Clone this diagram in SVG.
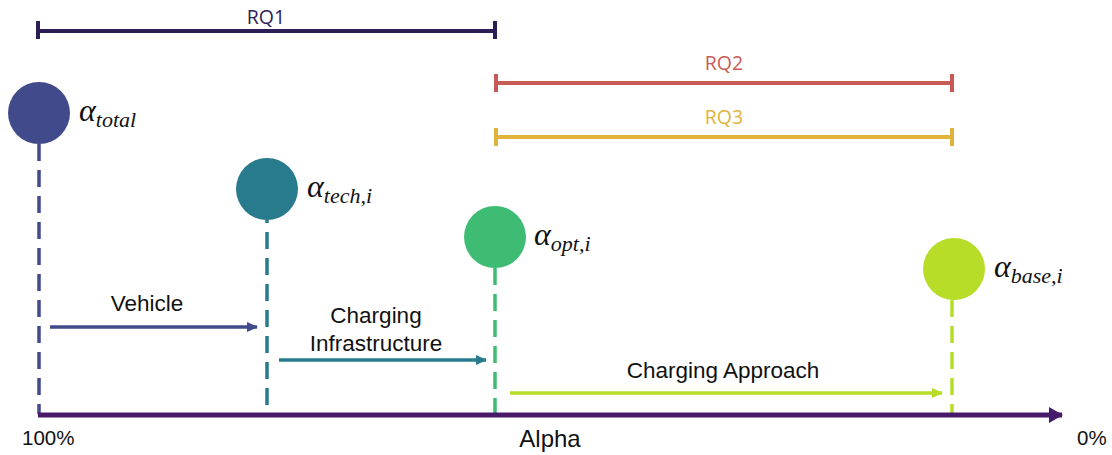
<svg xmlns="http://www.w3.org/2000/svg" width="1112" height="455" viewBox="0 0 1112 455">
  <style>
    .lbl { font-family: "Liberation Sans", Arial, sans-serif; font-size: 22.5px; fill: #111; }
    .tick { font-family: "Liberation Sans", Arial, sans-serif; font-size: 20.5px; fill: #111; }
    .axis-name { font-family: "Liberation Sans", Arial, sans-serif; font-size: 24px; fill: #111; }
    .rq { font-family: "Open Sans", "Liberation Sans", sans-serif; font-size: 19.5px; text-anchor: middle; }
    .math { font-family: "Liberation Serif", serif; font-style: italic; fill: #111; }
    .drop { stroke-width: 3.5; stroke-dasharray: 17 9; fill: none; }
    .arr { stroke-width: 3.5; fill: none; }
    .bar { stroke-width: 4; fill: none; }
  </style>
  <defs>
    <marker id="ah-veh" markerWidth="11" markerHeight="10" refX="10" refY="5" orient="auto" markerUnits="userSpaceOnUse">
      <path d="M0,0 L11,5 L0,10 Z" fill="#414a8a"/>
    </marker>
    <marker id="ah-inf" markerWidth="11" markerHeight="10" refX="10" refY="5" orient="auto" markerUnits="userSpaceOnUse">
      <path d="M0,0 L11,5 L0,10 Z" fill="#287b8c"/>
    </marker>
    <marker id="ah-app" markerWidth="11" markerHeight="10" refX="10" refY="5" orient="auto" markerUnits="userSpaceOnUse">
      <path d="M0,0 L11,5 L0,10 Z" fill="#b7dd29"/>
    </marker>
    <marker id="ah-axis" markerWidth="14" markerHeight="16" refX="13" refY="8" orient="auto" markerUnits="userSpaceOnUse">
      <path d="M0,0 L14,8 L0,16 Z" fill="#481a6c"/>
    </marker>
  </defs>

  <!-- research question ranges -->
  <g id="rq1">
    <path class="bar" stroke="#2d1d57" d="M38,31 H495 M38,21 V39 M495,21 V39"/>
    <text class="rq" x="266" y="24" fill="#2d1d57">RQ1</text>
  </g>
  <g id="rq2">
    <path class="bar" stroke="#c85a55" d="M496,83 H952 M496,74 V92 M952,74 V92"/>
    <text class="rq" x="724" y="70" fill="#c85a55">RQ2</text>
  </g>
  <g id="rq3">
    <path class="bar" stroke="#e0b43c" d="M496,137 H952 M496,128 V146 M952,128 V146"/>
    <text class="rq" x="724" y="124" fill="#e0b43c">RQ3</text>
  </g>

  <!-- alpha levels: dashed drop line from the bottom of each circle down to the axis -->
  <g id="alpha-total">
    <line class="drop" stroke="#414a8a" x1="39" y1="144" x2="39" y2="414"/>
    <circle cx="39" cy="113" r="31" fill="#414a8a"/>
    <text class="math" x="79" y="121"><tspan font-size="32">α</tspan><tspan font-size="22" dy="6">total</tspan></text>
  </g>
  <g id="alpha-tech">
    <line class="drop" stroke="#287b8c" x1="267" y1="220" x2="267" y2="405" stroke-dashoffset="14"/>
    <circle cx="267" cy="189" r="31" fill="#287b8c"/>
    <text class="math" x="307" y="197"><tspan font-size="32">α</tspan><tspan font-size="22" dy="6">tech,i</tspan></text>
  </g>
  <g id="alpha-opt">
    <line class="drop" stroke="#3fbc73" x1="495" y1="268" x2="495" y2="414"/>
    <circle cx="495" cy="237" r="31" fill="#3fbc73"/>
    <text class="math" x="534" y="245"><tspan font-size="32">α</tspan><tspan font-size="22" dy="6">opt,i</tspan></text>
  </g>
  <g id="alpha-base">
    <line class="drop" stroke="#b7dd29" x1="952" y1="300" x2="952" y2="414"/>
    <circle cx="954" cy="269" r="31" fill="#b7dd29"/>
    <text class="math" x="994" y="277"><tspan font-size="32">α</tspan><tspan font-size="22" dy="6">base,i</tspan></text>
  </g>

  <!-- contributions between levels, and the alpha axis -->
  <g id="connectors">
    <line class="arr" stroke="#414a8a" x1="50" y1="327" x2="257" y2="327" marker-end="url(#ah-veh)"/>
    <line class="arr" stroke="#287b8c" x1="279" y1="360" x2="486" y2="360" marker-end="url(#ah-inf)"/>
    <line class="arr" stroke="#b7dd29" x1="510" y1="393" x2="942" y2="393" marker-end="url(#ah-app)"/>
    <line stroke="#481a6c" stroke-width="5" x1="38" y1="415" x2="1062" y2="415" marker-end="url(#ah-axis)"/>
  </g>

  <g id="labels">
    <text class="lbl" x="147" y="311" text-anchor="middle">Vehicle</text>
    <text class="lbl" x="376" y="323" text-anchor="middle">Charging</text>
    <text class="lbl" x="376" y="351" text-anchor="middle">Infrastructure</text>
    <text class="lbl" x="723" y="378" text-anchor="middle">Charging Approach</text>
    <text class="tick" x="22" y="445">100%</text>
    <text class="axis-name" x="550" y="447" text-anchor="middle">Alpha</text>
    <text class="tick" x="1077" y="445">0%</text>
  </g>
</svg>
